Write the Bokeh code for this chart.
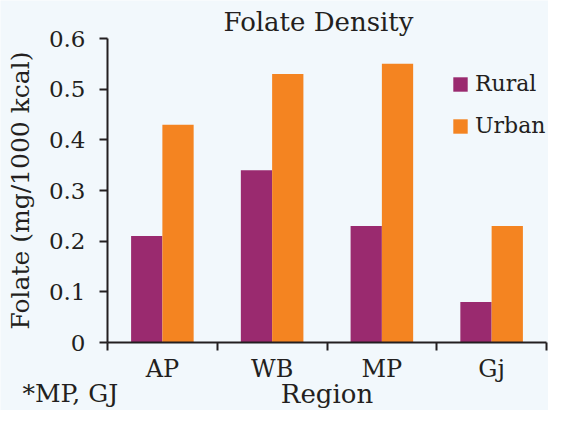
from bokeh.plotting import figure
from bokeh.models import Range1d, FixedTicker, Label, Legend, LegendItem
from bokeh.embed import file_html
from bokeh.resources import INLINE

# ---- data ----
regions = ["AP", "WB", "MP", "Gj"]
rural = [0.21, 0.34, 0.23, 0.08]
urban = [0.43, 0.53, 0.55, 0.23]
series_names = ["Rural", "Urban"]
yticks = [0, 0.1, 0.2, 0.3, 0.4, 0.5, 0.6]
ytick_labels = ["0", "0.1", "0.2", "0.3", "0.4", "0.5", "0.6"]
title_text = "Folate Density"
x_label = "Region"
y_label = "Folate (mg/1000 kcal)"
note_text = "*MP, GJ"

# ---- style / layout (pixels) ----
FONT = "DejaVu Serif"
TXT = "#231F20"
BG = "#F2F8FC"
C_RURAL = "#9A2A6F"
C_URBAN = "#F48421"
BAR_W = 0.285

W, H = 548, 410
AX_X0, AX_X1 = 107, 546      # pixel span of the category axis
AX_YTOP, AX_Y0 = 38, 342     # pixel rows of y=0.6 and y=0
n = len(regions)
YMAX = yticks[-1]
px_x = (AX_X1 - AX_X0) / n
px_y = (AX_Y0 - AX_YTOP) / YMAX
x_range = Range1d(-AX_X0 / px_x, n + (W - AX_X1) / px_x)
y_range = Range1d(-(H - AX_Y0) / px_y, YMAX + AX_YTOP / px_y)

p = figure(width=W, height=H, output_backend="svg", toolbar_location=None,
           x_range=x_range, y_range=y_range, min_border=0,
           background_fill_color=BG, border_fill_color=BG)
p.outline_line_color = None
p.xgrid.visible = False
p.ygrid.visible = False

centers = [i + 0.5 for i in range(n)]
r1 = p.vbar(x=[c - BAR_W / 2 for c in centers], width=BAR_W, top=rural,
            fill_color=C_RURAL, line_color=None)
r2 = p.vbar(x=[c + BAR_W / 2 for c in centers], width=BAR_W, top=urban,
            fill_color=C_URBAN, line_color=None)

# y axis (drawn at x=0 inside the frame)
ya = p.yaxis[0]
ya.fixed_location = 0
ya.bounds = (0, YMAX)
ya.ticker = FixedTicker(ticks=yticks, minor_ticks=[])
ya.major_label_overrides = {t: l for t, l in zip(yticks, ytick_labels)}
ya.axis_line_width = 2
ya.axis_line_color = TXT
ya.major_tick_line_width = 2
ya.major_tick_line_color = TXT
ya.major_tick_out = 8
ya.major_tick_in = 0
ya.minor_tick_line_color = None
ya.major_label_standoff = 14
ya.major_label_text_font = FONT
ya.major_label_text_font_size = "23px"
ya.major_label_text_color = TXT
ya.axis_label = y_label
ya.axis_label_text_font = FONT
ya.axis_label_text_font_size = "25px"
ya.axis_label_text_font_style = "normal"
ya.axis_label_text_color = TXT
ya.axis_label_standoff = 11

# x axis (drawn at y=0): labels at centers, ticks at boundaries (minor ticks)
xa = p.xaxis[0]
xa.fixed_location = 0
xa.bounds = (0, n)
xa.ticker = FixedTicker(ticks=centers, minor_ticks=list(range(n + 1)))
xa.major_label_overrides = {c: r for c, r in zip(centers, regions)}
xa.axis_line_width = 2
xa.axis_line_color = TXT
xa.major_tick_out = 0
xa.major_tick_in = 0
xa.major_tick_line_color = None
xa.minor_tick_out = 8
xa.minor_tick_in = 0
xa.minor_tick_line_width = 2
xa.minor_tick_line_color = TXT
xa.major_label_standoff = 4
xa.major_label_text_font = FONT
xa.major_label_text_font_size = "24px"
xa.major_label_text_color = TXT

def screen_label(x, y, text, align, size):
    return Label(x=x, y=y, x_units="screen", y_units="screen", text=text,
                 text_align=align, text_baseline="alphabetic",
                 text_font=FONT, text_font_size=size, text_color=TXT)

p.add_layout(screen_label(318, H - 21, title_text, "center", "26px"))
p.add_layout(screen_label((AX_X0 + AX_X1) / 2, 17, x_label, "center", "26px"))
p.add_layout(screen_label(22, 17, note_text, "left", "25px"))

legend = Legend(items=[LegendItem(label=series_names[0], renderers=[r1]),
                       LegendItem(label=series_names[1], renderers=[r2])],
                location=(451, H - 138), orientation="vertical",
                glyph_width=18, glyph_height=18, label_standoff=6,
                label_height=18, spacing=17, padding=0, margin=0,
                border_line_alpha=0, background_fill_alpha=0,
                label_text_font=FONT, label_text_font_size="22px",
                label_text_color=TXT)
p.add_layout(legend)

open("out.html", "w").write(file_html(p, INLINE))
